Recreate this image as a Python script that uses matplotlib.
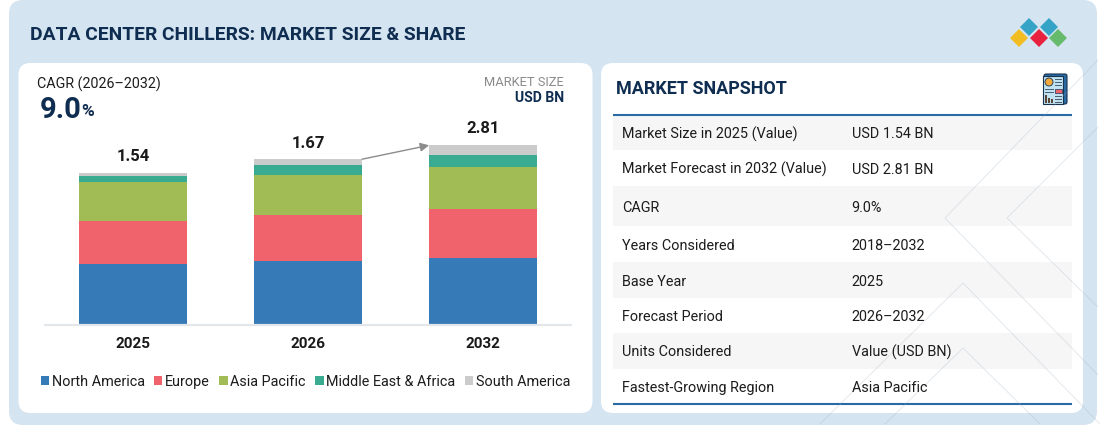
import matplotlib
matplotlib.use('Agg')
import matplotlib.pyplot as plt
from matplotlib.patches import FancyBboxPatch, Polygon, Rectangle, Wedge

plt.rcParams['font.family'] = ['Roboto', 'DejaVu Sans']

years = ['2025', '2026', '2032']
totals = ['1.54', '1.67', '2.81']
# segment heights as drawn, the bars are not to scale with the totals
regions = ['North America', 'Europe', 'Asia Pacific', 'Middle East & Africa', 'South America']
north_america = [61, 64, 67.3]
europe = [43.3, 46.3, 49]
asia_pacific = [38.3, 40, 42]
mea = [6, 9.3, 12]
south_america = [3.4, 6, 9.7]
series = [north_america, europe, asia_pacific, mea, south_america]
colors = ['#377ab8', '#f0636d', '#a1bc55', '#39ab90', '#cbcbcb']

snapshot_labels = ['Market Size in 2025 (Value)', 'Market Forecast in 2032 (Value)', 'CAGR',
                   'Years Considered', 'Base Year', 'Forecast Period', 'Units Considered',
                   'Fastest-Growing Region']
snapshot_values = ['USD 1.54 BN', 'USD 2.81 BN', '9.0%', '2018–2032', '2025', '2026–2032',
                   'Value (USD BN)', 'Asia Pacific']
row_edges = [115, 150, 186, 226, 262, 298, 333, 369, 404]

navy = '#0f2d50'
panel = '#d5e4f1'
rule = '#2a6aa5'

W, H = 1100, 429
fig = plt.figure(figsize=(W / 100, H / 100), dpi=100)

# page layer in pixel coordinates
bg = fig.add_axes([0, 0, 1, 1])
bg.set_xlim(0, W)
bg.set_ylim(H, 0)
bg.axis('off')


def card(x0, y0, x1, y1, r, color):
    bg.add_patch(FancyBboxPatch((x0 + r, y0 + r), x1 - x0 - 2 * r, y1 - y0 - 2 * r,
                                boxstyle='round,pad=%g,rounding_size=%g' % (r, r),
                                fc=color, ec='none'))


card(9, 0, 1097, 425, 14, panel)
card(18.5, 63, 592.5, 413, 12, 'white')
card(601, 63, 1083, 413, 12, 'white')

bg.text(30, 34.5, 'DATA CENTER CHILLERS: MARKET SIZE & SHARE', color=navy, fontsize=13.85,
        fontweight='bold', va='center')

# logo
for cx, cy, c in [(1029, 27, '#35a3c6'), (1049, 27, '#35a3c6'), (1019, 38, '#f2bd22'),
                  (1039, 38, '#e8213f'), (1058, 38, '#66ba6b')]:
    bg.add_patch(Polygon([(cx - 9, cy), (cx, cy - 9), (cx + 9, cy), (cx, cy + 9)], fc=c, ec='none'))

# left card text
bg.text(37, 84, 'CAGR (2026–2032)', color='#1c1c1c', fontsize=10.3, va='center')
bg.text(39.5, 109.5, '9.0', color=navy, fontsize=21, fontweight='bold', va='center')
bg.text(81, 112, '%', color=navy, fontsize=12.5, fontweight='bold', va='center')
bg.text(564, 83, 'MARKET SIZE', color='#8a8a8a', fontsize=9.3, ha='right', va='center')
bg.text(564, 97.5, 'USD BN', color=navy, fontsize=10.1, fontweight='bold', ha='right', va='center')

# snapshot table
bg.text(616, 89.5, 'MARKET SNAPSHOT', color=navy, fontsize=13, fontweight='bold', va='center')
for i in range(len(snapshot_labels)):
    top, bottom = row_edges[i], row_edges[i + 1]
    if i % 2 == 0:
        bg.add_patch(Rectangle((613, top), 459, bottom - top, fc='#f6f6f6', ec='none'))
    mid = (top + bottom) / 2 + 1.5
    bg.text(622, mid, snapshot_labels[i], color='#1c1c1c', fontsize=10.4, va='center')
    bg.text(851.5, mid, snapshot_values[i], color='#1c1c1c', fontsize=10.4, va='center')
bg.plot([613, 1072], [115, 115], color=rule, lw=1.5, solid_capstyle='butt')
bg.plot([613, 1072], [404, 404], color=rule, lw=1.5, solid_capstyle='butt')

# faint background line work
for xs, ys in [([1098, 945, 1098], [60, 218, 375]),
               ([1098, 1007, 1098], [127, 218, 307]),
               ([820, 963, 1100], [424, 283, 424]),
               ([885, 963, 1040], [424, 348, 424])]:
    bg.plot(xs, ys, color='#9fb0c0', lw=0.7, alpha=0.28)

# report icon
bg.add_patch(FancyBboxPatch((1044, 74), 23, 30, boxstyle='round,pad=0,rounding_size=2',
                            fc='#2a6aa5', ec='#17324f', lw=0.8))
bg.add_patch(Rectangle((1043, 76), 20, 28, fc='#bfe3f2', ec='#17324f', lw=0.8))
bg.add_patch(Wedge((1049, 82), 4, 0, 360, fc='#f2a93b', ec='#17324f', lw=0.6))
bg.add_patch(Rectangle((1054.5, 88.5), 7, 4, fc='#f0636d', ec='#17324f', lw=0.5))
for yy, x0, x1 in [(79, 1054.5, 1061), (82, 1054.5, 1061), (85, 1054.5, 1061),
                   (89, 1045, 1053), (92, 1045, 1053), (96, 1054.5, 1061), (99, 1054.5, 1061),
                   (102, 1054.5, 1061)]:
    bg.plot([x0, x1], [yy, yy], color='#4a5c6c', lw=0.7)
for xx, top in [(1046, 95), (1049, 98), (1052, 99)]:
    bg.add_patch(Rectangle((xx - 1, top), 2.2, 103 - top, fc='#5b4636', ec='none'))

# stacked bars, one data unit is one pixel
base_px = 324.8
ax_top_px = 124.8
ax = fig.add_axes([45.5 / W, 1 - base_px / H, 525.1 / W, (base_px - ax_top_px) / H])
ax.patch.set_alpha(0)
ax.set_xlim(-0.5, 2.5)
ax.set_ylim(0, 200)
bottom = [0, 0, 0]
bar_w = 108 / 175
for name, vals, c in zip(regions, series, colors):
    ax.bar(range(3), vals, bottom=bottom, width=bar_w, color=c, label=name)
    bottom = [b + v for b, v in zip(bottom, vals)]
for i, lab in enumerate(totals):
    ax.text(i, bottom[i] + 16, lab, ha='center', va='center', fontsize=12, fontweight='bold',
            color='#1a1a1a')
ax.annotate('', xy=(2 - bar_w / 2, bottom[2] - 0.5), xytext=(1 + bar_w / 2, bottom[1]),
            arrowprops=dict(arrowstyle='-|>', color='#8c8c8c', lw=1, mutation_scale=13,
                            shrinkA=0, shrinkB=0))
for s in ['top', 'left', 'right']:
    ax.spines[s].set_visible(False)
ax.spines['bottom'].set_color('#e3e6ea')
ax.spines['bottom'].set_linewidth(1.6)
ax.set_yticks([])
ax.set_xticks(range(3))
ax.set_xticklabels(years, fontsize=11, fontweight='bold', color='#1a1a1a')
ax.tick_params(axis='x', length=0, pad=8.5)
ax.legend(loc='center', bbox_to_anchor=(0.4952, -0.285), ncol=5, frameon=False, fontsize=10.4,
          handlelength=0.56, handleheight=0.56, handletextpad=0.2, columnspacing=0.66,
          labelcolor='#1c1c1c', borderpad=0, borderaxespad=0)

fig.savefig('out.png', dpi=100, facecolor='white')
